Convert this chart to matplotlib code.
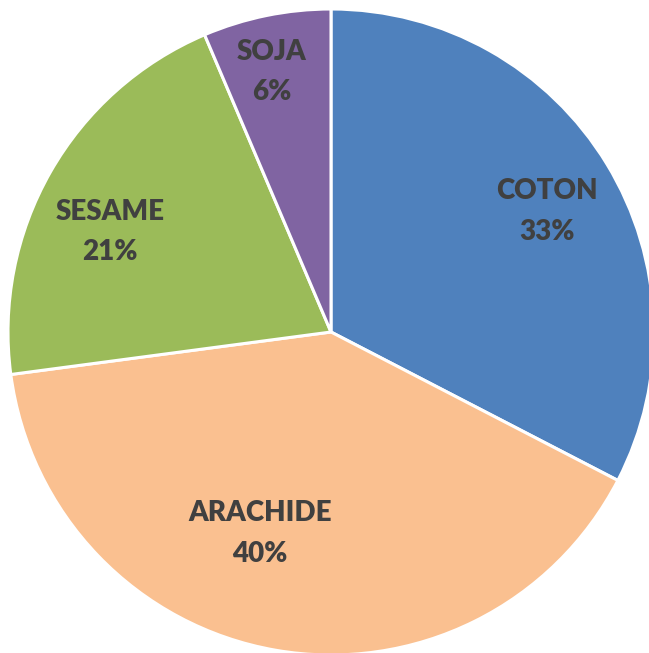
import numpy as np
import matplotlib
matplotlib.use("Agg")
import matplotlib.pyplot as plt

# Data
categories = ['COTON', 'ARACHIDE', 'SESAME', 'SOJA']
shares = [32.6, 40.3, 20.7, 6.4]
colors = ['#4F81BD', '#FAC090', '#9BBB59', '#8064A2']

# label placement (radius, angle in degrees)
label_r = [0.771, 0.651, 0.756, 0.837]
label_ang = [29.9, 250.3, 154.8, 102.6]

plt.rcParams['font.family'] = ['Lato', 'DejaVu Sans']

fig = plt.figure(figsize=(6.49, 6.53), dpi=100)
ax = fig.add_axes([8 / 649, -2 / 653, 646 / 649, 646 / 653])

wedges, _ = ax.pie(shares, colors=colors, startangle=90, counterclock=False,
                   wedgeprops=dict(edgecolor='white', linewidth=2.2))

for name, pct, r, a in zip(categories, shares, label_r, label_ang):
    t = np.deg2rad(a)
    # small downward nudge so the text sits like the original
    ax.text(r * np.cos(t), r * np.sin(t) - 0.012, f'{name}\n{round(pct)}%',
            ha='center', va='center', fontsize=20, fontweight='heavy',
            color='#404040', linespacing=1.7)

ax.set_xlim(-1, 1)
ax.set_ylim(-1, 1)
ax.set_aspect('equal')
ax.axis('off')

fig.savefig('out.png', dpi=100)
